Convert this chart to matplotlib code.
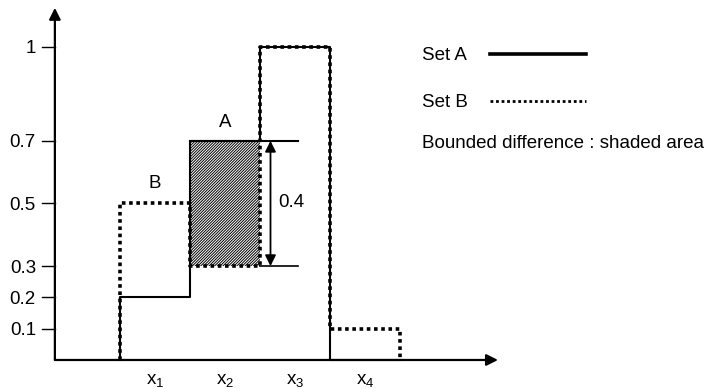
import numpy as np
import matplotlib
matplotlib.use("Agg")
import matplotlib.pyplot as plt

plt.rcParams['font.family'] = ['Liberation Sans', 'DejaVu Sans']
plt.rcParams['mathtext.fontset'] = 'custom'
plt.rcParams['mathtext.rm'] = 'Liberation Sans'
plt.rcParams['mathtext.it'] = 'Liberation Sans'
plt.rcParams['hatch.linewidth'] = 0.7

# Membership grades of the two fuzzy sets over the discrete universe
categories = ["x$_1$", "x$_2$", "x$_3$", "x$_4$"]
set_a = [0.2, 0.7, 1.0, 0.0]
set_b = [0.5, 0.3, 1.0, 0.1]
y_ticks = [0.1, 0.2, 0.3, 0.5, 0.7, 1.0]
y_tick_labels = ["0.1", "0.2", "0.3", "0.5", "0.7", "1"]

# Bounded difference A (-) B = max(0, a - b)
bounded_diff = [max(0.0, a - b) for a, b in zip(set_a, set_b)]

FS = 13.5

fig = plt.figure(figsize=(7.12, 3.89), dpi=100)
ax = fig.add_axes([0, 0, 1, 1])
ax.set_xlim(-1.714, 8.457)
ax.set_ylim(-0.0927, 1.150)
ax.axis("off")

n = len(categories)
edges = np.arange(n + 1)


def step_path(values):
    xs, ys = [edges[0]], [0.0]
    for i, v in enumerate(values):
        xs += [edges[i], edges[i + 1]]
        ys += [v, v]
    xs.append(edges[-1])
    ys.append(0.0)
    return xs, ys


# Axes with arrow heads
x_axis_left, x_axis_right = -0.93, 5.40
ax.annotate("", xy=(x_axis_right, 0), xytext=(x_axis_left, 0),
            arrowprops=dict(arrowstyle="-|>", lw=1.6, color="black",
                            mutation_scale=17, shrinkA=0, shrinkB=0))
ax.annotate("", xy=(x_axis_left, 1.125), xytext=(x_axis_left, 0),
            arrowprops=dict(arrowstyle="-|>", lw=1.6, color="black",
                            mutation_scale=17, shrinkA=0, shrinkB=0))

# Y ticks and labels
for t, lab in zip(y_ticks, y_tick_labels):
    ax.plot([x_axis_left - 0.19, x_axis_left], [t, t], color="black", lw=1.0)
    ax.text(x_axis_left - 0.27, t, lab, ha="right", va="center_baseline", fontsize=FS)

# Category labels
for i, lab in enumerate(categories):
    ax.text(edges[i] + 0.5, -0.065, lab, ha="center", va="center", fontsize=FS)

# Shaded bounded difference
for i, d in enumerate(bounded_diff):
    if d > 0:
        ax.fill_between([edges[i], edges[i + 1]], set_b[i], set_b[i] + d,
                        facecolor="white", edgecolor="black", hatch="/" * 12,
                        lw=0, zorder=1)

# Set A (solid) and Set B (dotted)
xa, ya = step_path(set_a)
ax.plot(xa, ya, color="black", lw=1.5, zorder=3)
xb, yb = step_path(set_b)
ax.plot(xb, yb, color="black", lw=2.6, linestyle=(0, (1, 1)), zorder=4)

# Difference dimension for the shaded column
k = int(np.argmax(bounded_diff))
lo, hi = set_b[k], set_a[k]
ax.plot([edges[k], edges[k + 1] + 0.55], [hi, hi], color="black", lw=1.5, zorder=3)
ax.plot([edges[k + 1], edges[k + 1] + 0.55], [lo, lo], color="black", lw=1.2, zorder=3)
ax.annotate("", xy=(edges[k + 1] + 0.15, hi), xytext=(edges[k + 1] + 0.15, lo),
            arrowprops=dict(arrowstyle="<|-|>", lw=1.3, color="black",
                            mutation_scale=16, shrinkA=0, shrinkB=0))
ax.text(edges[k + 1] + 0.26, (hi + lo) / 2 + 0.01, f"{bounded_diff[k]:.1f}",
        ha="left", va="center_baseline", fontsize=FS)

# Set name labels
ax.text(edges[1] + 0.5, 0.765, "A", ha="center", va="center_baseline", fontsize=FS)
ax.text(edges[0] + 0.5, 0.57, "B", ha="center", va="center_baseline", fontsize=FS)

# Key
key_x = 4.31
ax.text(key_x, 0.978, "Set A", ha="left", va="center_baseline", fontsize=FS)
ax.plot([5.29, 6.65], [0.978, 0.978], color="black", lw=2.6)
ax.text(key_x, 0.828, "Set B", ha="left", va="center_baseline", fontsize=FS)
ax.plot([5.29, 6.65], [0.827, 0.827], color="black", lw=2.0, linestyle=(0, (1, 1)))
ax.text(key_x, 0.697, "Bounded difference : shaded area", ha="left",
        va="center_baseline", fontsize=FS)

fig.savefig("out.png", dpi=100, facecolor="white")
